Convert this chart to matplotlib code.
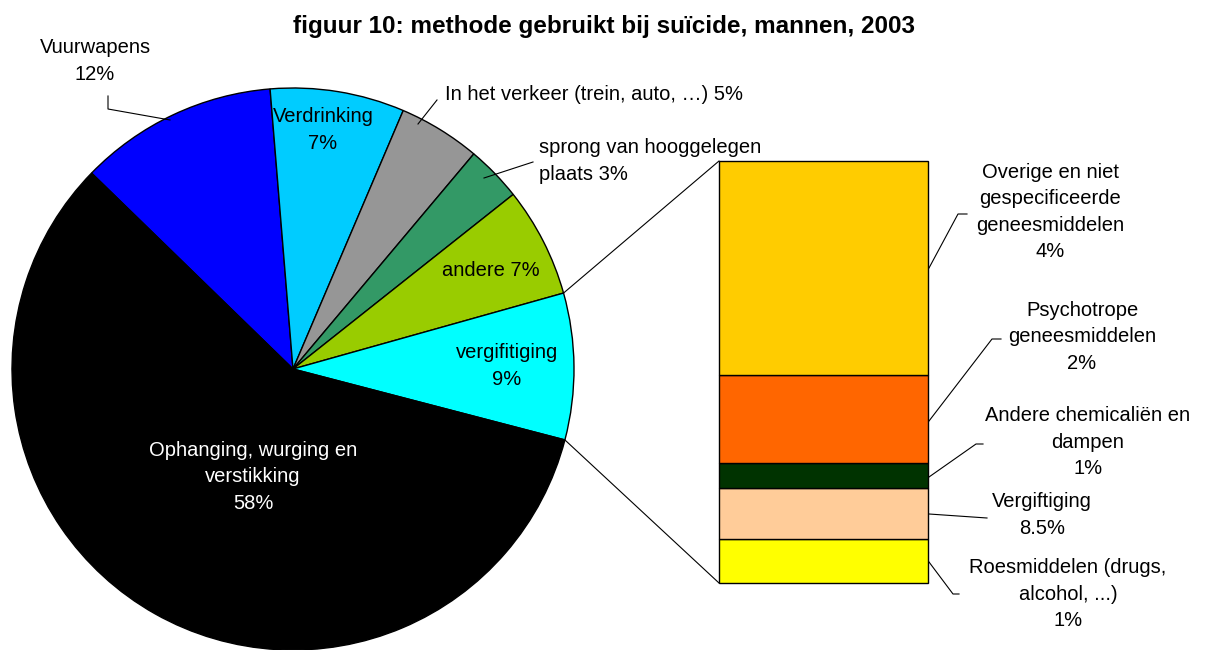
import numpy as np
import matplotlib
matplotlib.use("Agg")
import matplotlib.pyplot as plt

plt.rcParams['font.family'] = ['Liberation Sans', 'DejaVu Sans']

# pie slices, clockwise from the upper left
pie_labels = ["Vuurwapens\n12%", "Verdrinking\n7%", "In het verkeer (trein, auto, \u2026) 5%",
              "sprong van hooggelegen\nplaats 3%", "andere 7%", "vergifitiging\n9%",
              "Ophanging, wurging en\nverstikking\n58%"]
pie_values = [11.4, 7.7, 4.7, 3.2, 6.3, 8.4, 58.1]
pie_colors = ["#0000FF", "#00CCFF", "#969696", "#339966", "#99CC00", "#00FFFF", "#000000"]

# breakdown of "vergifitiging", bottom to top
bar_labels = ["Roesmiddelen (drugs,\nalcohol, ...)\n1%", "Vergiftiging\n8.5%",
              "Andere chemicali\u00ebn en\ndampen\n1%", "Psychotrope\ngeneesmiddelen\n2%",
              "Overige en niet\ngespecificeerde\ngeneesmiddelen\n4%"]
bar_values = [0.88, 1.02, 0.49, 1.76, 4.25]
bar_colors = ["#FFFF00", "#FFCC99", "#003300", "#FF6600", "#FFCC00"]

title = "figuur 10: methode gebruikt bij su\u00efcide, mannen, 2003"

W, H = 1210, 650
fig = plt.figure(figsize=(W / 100, H / 100), dpi=100)
ax = fig.add_axes([0, 0, 1, 1])

# pie in pixel coords (y up)
cx, cy, r = 293, H - 369, 281
wedges, _ = ax.pie(pie_values, colors=pie_colors, startangle=135.8, counterclock=False,
                   center=(cx, cy), radius=r,
                   wedgeprops=dict(edgecolor="black", linewidth=1.0))
ax.set_xlim(0, W)
ax.set_ylim(0, H)
ax.set_aspect("equal")
ax.axis("off")

fs = 14.5
ls = 1.5
# label positions (pixel, y down) and style
lab_pos = [(95, 61, "center"), (323, 130, "center"), (445, 94, "left"),
           (539, 161, "left"), (491, 270, "center"), (507, 366, "center"),
           (253, 477, "center")]
for i, (lab, (x, y, ha)) in enumerate(zip(pie_labels, lab_pos)):
    col = "white" if i == 6 else "black"
    ax.text(x, H - y, lab, ha=ha, va="center", fontsize=fs, color=col,
            multialignment=ha, linespacing=ls)

# pie leader lines
leaders = [[(108, 96), (108, 109), (170, 120)],
           [(437, 100), (418, 124)],
           [(533, 162), (484, 178)]]
for pts in leaders:
    ax.plot([p[0] for p in pts], [H - p[1] for p in pts], color="black", lw=0.8)

# bar of the split slice
bx0, by0, bw, bh = 719, H - 583, 209, 422
bx = fig.add_axes([bx0 / W, by0 / H, bw / W, bh / H])
bottoms = np.concatenate([[0], np.cumsum(bar_values)[:-1]])
bx.bar(0, bar_values, bottom=bottoms, width=1, color=bar_colors,
       edgecolor="black", linewidth=1.0, clip_on=False)
bx.set_xlim(-0.5, 0.5)
bx.set_ylim(0, sum(bar_values))
bx.axis("off")

# connectors from the split slice to the bar
split = wedges[5]
for ang, yb in [(split.theta2, by0 + bh), (split.theta1, by0)]:
    a = np.deg2rad(ang)
    ax.plot([cx + r * np.cos(a), bx0], [cy + r * np.sin(a), yb], color="black", lw=0.8)

# bar labels
bar_pos = [(1068, 594), (1042, 515), (1088, 442), (1082, 337), (1050, 212)]
for lab, (x, y) in zip(bar_labels, bar_pos):
    ax.text(x, H - y, lab, ha="center", va="center", fontsize=fs,
            multialignment="center", linespacing=ls)

bar_leaders = [[(929, 562), (953, 594), (959, 594)],
               [(929, 514), (987, 518)],
               [(929, 477), (976, 444), (983, 444)],
               [(929, 421), (992, 339), (1001, 339)],
               [(929, 268), (958, 214), (967, 214)]]
for pts in bar_leaders:
    ax.plot([p[0] for p in pts], [H - p[1] for p in pts], color="black", lw=0.8)

ax.text(604, H - 27, title, ha="center", va="center", fontsize=17.5, fontweight="bold")

fig.savefig("out.png", dpi=100)
